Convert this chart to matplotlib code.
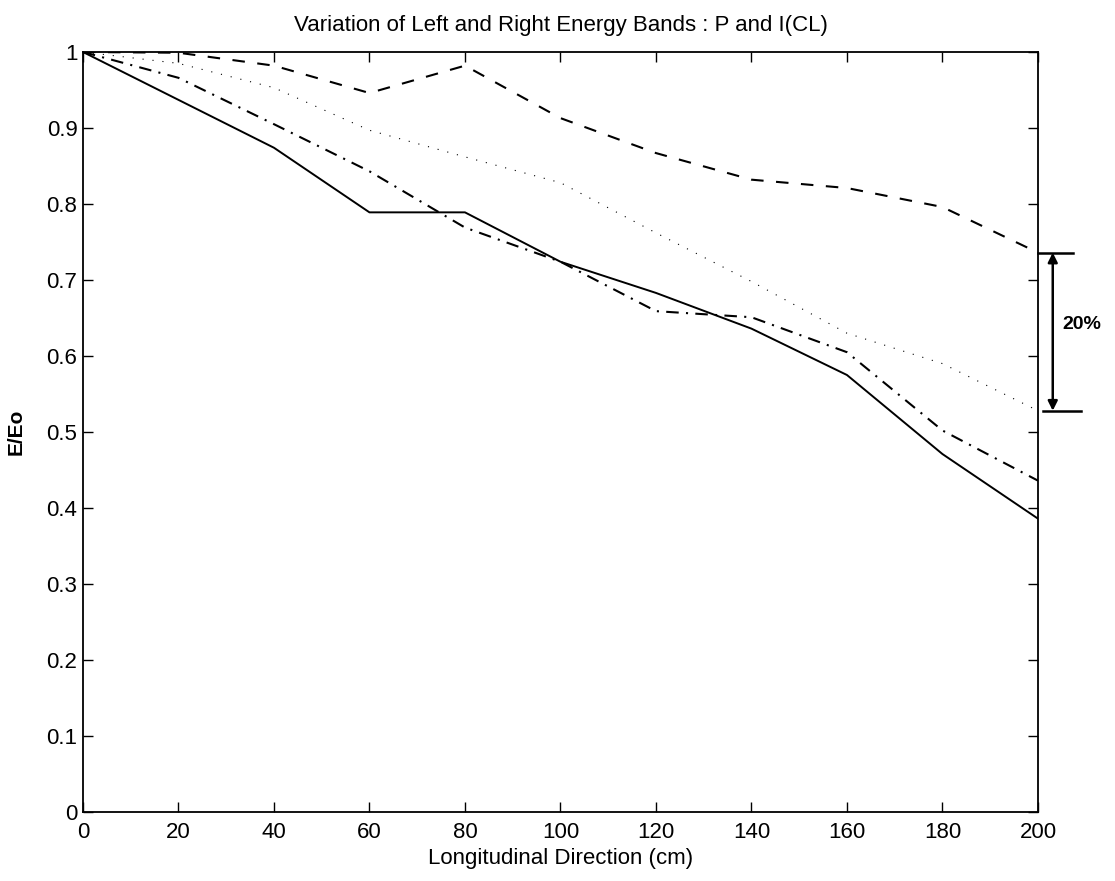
import matplotlib
matplotlib.use("Agg")
import matplotlib.pyplot as plt

plt.rcParams["font.family"] = ["Liberation Sans", "DejaVu Sans"]

x_cm = [0, 20, 40, 60, 80, 100, 120, 140, 160, 180, 200]
solid = [1.0, 0.937, 0.874, 0.789, 0.789, 0.724, 0.683, 0.636, 0.575, 0.471, 0.386]
dashdot = [1.0, 0.966, 0.905, 0.843, 0.769, 0.724, 0.659, 0.651, 0.605, 0.502, 0.436]
dotted = [1.0, 0.985, 0.953, 0.897, 0.862, 0.828, 0.762, 0.698, 0.630, 0.590, 0.528]
dashed = [1.0, 0.999, 0.982, 0.946, 0.982, 0.913, 0.867, 0.832, 0.821, 0.796, 0.736]

x_ticks = list(range(0, 201, 20))
y_ticks = [0, 0.1, 0.2, 0.3, 0.4, 0.5, 0.6, 0.7, 0.8, 0.9, 1]
y_labels = ["0", "0.1", "0.2", "0.3", "0.4", "0.5", "0.6", "0.7", "0.8", "0.9", "1"]

fig = plt.figure(figsize=(11.15, 8.81), dpi=100)
ax = fig.add_axes([0.0744, 0.0783, 0.8565, 0.8627])

ax.plot(x_cm, solid, color="black", lw=1.4, linestyle="-")
ax.plot(x_cm, dashdot, color="black", lw=1.5, linestyle=(0, (6, 3.5, 1, 3.5)))
ax.plot(x_cm, dotted, color="black", lw=0.8, linestyle=(0, (1, 8)))
ax.plot(x_cm, dashed, color="black", lw=1.5, linestyle=(0, (6, 6)))

ax.set_xlim(0, 200)
ax.set_ylim(0, 1)
ax.set_xticks(x_ticks)
ax.set_yticks(y_ticks)
ax.set_yticklabels(y_labels)
ax.tick_params(direction="in", length=7, width=1, top=True, right=True,
               labelsize=16)
ax.tick_params(axis="x", pad=7)
ax.tick_params(axis="y", pad=4)
for spine in ax.spines.values():
    spine.set_linewidth(1.3)

ax.set_title("Variation of Left and Right Energy Bands : P and I(CL)",
             fontsize=16, pad=15)
ax.set_xlabel("Longitudinal Direction (cm)", fontsize=16, labelpad=4)
ax.set_ylabel("E/Eo", fontsize=15, fontweight="bold")
ax.yaxis.set_label_coords(-0.06, 0.5)

# 20% bracket on the right side, between the dashed and dotted end values
top, bottom = dashed[-1], dotted[-1]
ax.plot([200, 207.3], [top, top], color="black", lw=1.8, clip_on=False)
ax.plot([201, 209], [bottom, bottom], color="black", lw=1.8, clip_on=False)
ax.annotate("", xy=(203.1, top), xytext=(203.1, bottom),
            arrowprops=dict(arrowstyle="<|-|>", color="black", lw=1.8,
                            shrinkA=0, shrinkB=0, mutation_scale=14),
            annotation_clip=False)
ax.text(205.1, (top + bottom) / 2 + 0.01, "20%", fontsize=14, fontweight="bold",
        ha="left", va="center")

fig.savefig("out.png", dpi=100)
